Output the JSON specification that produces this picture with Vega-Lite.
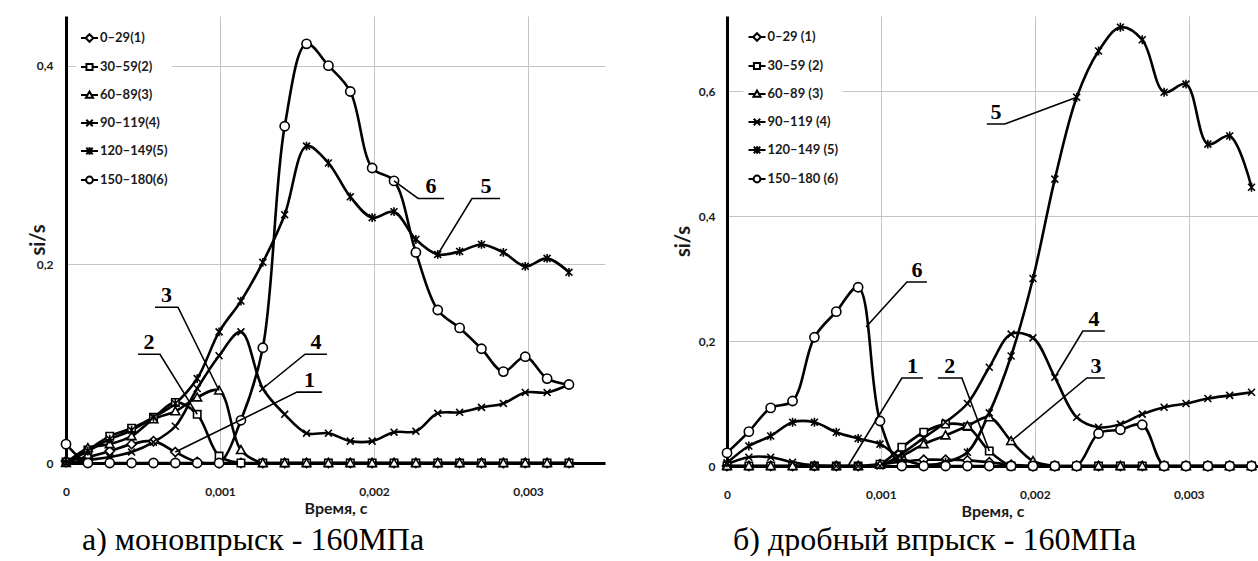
{
  "$schema": "https://vega.github.io/schema/vega-lite/v6.json",
  "background": "white",
  "autosize": {"type": "pad"},
  "padding": {"left": 28, "top": 16, "right": 0, "bottom": 0},
  "bounds": "flush",
  "spacing": 122,
  "config": {
    "view": {"stroke": null},
    "axis": {
      "labelFont": "Lato", "labelFontWeight": "bold", "labelFontSize": 12, "labelColor": "#1a1a1a",
      "titleFont": "Lato", "titleFontWeight": "bold", "titleColor": "#1a1a1a",
      "ticks": false, "grid": true, "gridColor": "#c4c4c4", "gridWidth": 1,
      "domainColor": "black", "domainWidth": 3, "labelFlush": false
    },
    "legend": {
      "labelFont": "Lato", "labelFontWeight": "bold", "labelFontSize": 13, "labelColor": "#1a1a1a",
      "symbolSize": 289, "symbolStrokeWidth": 2,
      "rowPadding": 11, "labelOffset": 1, "padding": 4, "fillColor": "white", "strokeColor": null
    },
    "title": {"font": "Liberation Serif", "fontSize": 32, "fontWeight": "normal", "color": "black", "frame": "group"}
  },
  "resolve": {"scale": {"shape": "independent"}, "legend": {"shape": "independent"}},
  "datasets": {
    "mono": [
      {"t": 0, "s1": 0.002, "s2": 0.001, "s3": 0, "s4": 0, "s5": 0, "s6": 0.019},
      {"t": 0.000142, "s1": 0.006, "s2": 0.013, "s3": 0.015, "s4": 0.003, "s5": 0.012, "s6": 0},
      {"t": 0.000284, "s1": 0.012, "s2": 0.027, "s3": 0.019, "s4": 0.006, "s5": 0.024, "s6": 0},
      {"t": 0.000426, "s1": 0.019, "s2": 0.035, "s3": 0.027, "s4": 0.011, "s5": 0.033, "s6": 0},
      {"t": 0.000568, "s1": 0.022, "s2": 0.046, "s3": 0.044, "s4": 0.021, "s5": 0.046, "s6": 0},
      {"t": 0.00071, "s1": 0.011, "s2": 0.061, "s3": 0.052, "s4": 0.037, "s5": 0.06, "s6": 0},
      {"t": 0.000852, "s1": 0.001, "s2": 0.049, "s3": 0.066, "s4": 0.075, "s5": 0.085, "s6": 0},
      {"t": 0.000994, "s1": 0, "s2": 0.007, "s3": 0.073, "s4": 0.108, "s5": 0.132, "s6": 0},
      {"t": 0.001136, "s1": 0, "s2": 0, "s3": 0.013, "s4": 0.132, "s5": 0.163, "s6": 0.043},
      {"t": 0.001278, "s1": 0, "s2": 0, "s3": 0, "s4": 0.075, "s5": 0.202, "s6": 0.116},
      {"t": 0.00142, "s1": 0, "s2": 0, "s3": 0, "s4": 0.049, "s5": 0.25, "s6": 0.339},
      {"t": 0.001562, "s1": 0, "s2": 0, "s3": 0, "s4": 0.03, "s5": 0.319, "s6": 0.422},
      {"t": 0.001704, "s1": 0, "s2": 0, "s3": 0, "s4": 0.03, "s5": 0.302, "s6": 0.4},
      {"t": 0.001846, "s1": 0, "s2": 0, "s3": 0, "s4": 0.022, "s5": 0.268, "s6": 0.374},
      {"t": 0.001988, "s1": 0, "s2": 0, "s3": 0, "s4": 0.022, "s5": 0.247, "s6": 0.297},
      {"t": 0.00213, "s1": 0, "s2": 0, "s3": 0, "s4": 0.031, "s5": 0.253, "s6": 0.284},
      {"t": 0.002272, "s1": 0, "s2": 0, "s3": 0, "s4": 0.032, "s5": 0.225, "s6": 0.212},
      {"t": 0.002414, "s1": 0, "s2": 0, "s3": 0, "s4": 0.05, "s5": 0.21, "s6": 0.154},
      {"t": 0.002556, "s1": 0, "s2": 0, "s3": 0, "s4": 0.051, "s5": 0.213, "s6": 0.136},
      {"t": 0.002698, "s1": 0, "s2": 0, "s3": 0, "s4": 0.056, "s5": 0.22, "s6": 0.115},
      {"t": 0.00284, "s1": 0, "s2": 0, "s3": 0, "s4": 0.06, "s5": 0.212, "s6": 0.092},
      {"t": 0.002982, "s1": 0, "s2": 0, "s3": 0, "s4": 0.071, "s5": 0.198, "s6": 0.107},
      {"t": 0.003124, "s1": 0, "s2": 0, "s3": 0, "s4": 0.071, "s5": 0.206, "s6": 0.085},
      {"t": 0.003266, "s1": 0, "s2": 0, "s3": 0, "s4": 0.079, "s5": 0.192, "s6": 0.079}
    ],
    "split": [
      {"t": 0, "s1": 0, "s2": 0, "s3": 0, "s4": 0.003, "s5": 0.005, "s6": 0.021},
      {"t": 0.000142, "s1": 0, "s2": 0, "s3": 0, "s4": 0.014, "s5": 0.032, "s6": 0.055},
      {"t": 0.000284, "s1": 0, "s2": 0, "s3": 0, "s4": 0.014, "s5": 0.048, "s6": 0.093},
      {"t": 0.000426, "s1": 0, "s2": 0, "s3": 0, "s4": 0.006, "s5": 0.07, "s6": 0.104},
      {"t": 0.000568, "s1": 0, "s2": 0, "s3": 0, "s4": 0.001, "s5": 0.07, "s6": 0.206},
      {"t": 0.00071, "s1": 0, "s2": 0, "s3": 0, "s4": 0, "s5": 0.054, "s6": 0.247},
      {"t": 0.000852, "s1": 0, "s2": 0, "s3": 0, "s4": 0, "s5": 0.044, "s6": 0.286},
      {"t": 0.000994, "s1": 0.003, "s2": 0.003, "s3": 0.002, "s4": 0, "s5": 0.035, "s6": 0.072},
      {"t": 0.001136, "s1": 0.007, "s2": 0.03, "s3": 0.016, "s4": 0.02, "s5": 0.012, "s6": 0},
      {"t": 0.001278, "s1": 0.01, "s2": 0.054, "s3": 0.035, "s4": 0.045, "s5": 0.002, "s6": 0},
      {"t": 0.00142, "s1": 0.01, "s2": 0.067, "s3": 0.049, "s4": 0.07, "s5": 0.006, "s6": 0},
      {"t": 0.001562, "s1": 0.009, "s2": 0.063, "s3": 0.064, "s4": 0.1, "s5": 0.022, "s6": 0},
      {"t": 0.001704, "s1": 0.006, "s2": 0.024, "s3": 0.078, "s4": 0.158, "s5": 0.085, "s6": 0},
      {"t": 0.001846, "s1": 0.002, "s2": 0, "s3": 0.04, "s4": 0.211, "s5": 0.176, "s6": 0},
      {"t": 0.001988, "s1": 0, "s2": 0, "s3": 0.008, "s4": 0.205, "s5": 0.3, "s6": 0},
      {"t": 0.00213, "s1": 0, "s2": 0, "s3": 0, "s4": 0.142, "s5": 0.459, "s6": 0},
      {"t": 0.002272, "s1": 0, "s2": 0, "s3": 0, "s4": 0.078, "s5": 0.59, "s6": 0},
      {"t": 0.002414, "s1": 0, "s2": 0, "s3": 0, "s4": 0.062, "s5": 0.664, "s6": 0.052},
      {"t": 0.002556, "s1": 0, "s2": 0, "s3": 0, "s4": 0.067, "s5": 0.702, "s6": 0.058},
      {"t": 0.002698, "s1": 0, "s2": 0, "s3": 0, "s4": 0.083, "s5": 0.682, "s6": 0.066},
      {"t": 0.00284, "s1": 0, "s2": 0, "s3": 0, "s4": 0.094, "s5": 0.598, "s6": 0},
      {"t": 0.002982, "s1": 0, "s2": 0, "s3": 0, "s4": 0.1, "s5": 0.611, "s6": 0},
      {"t": 0.003124, "s1": 0, "s2": 0, "s3": 0, "s4": 0.108, "s5": 0.515, "s6": 0},
      {"t": 0.003266, "s1": 0, "s2": 0, "s3": 0, "s4": 0.113, "s5": 0.528, "s6": 0},
      {"t": 0.003408, "s1": 0, "s2": 0, "s3": 0, "s4": 0.118, "s5": 0.446, "s6": 0}
    ],
    "annAlines": [
      {"k": "6", "o": 0, "t": 0.00213, "v": 0.284}, {"k": "6", "o": 1, "t": 0.002286, "v": 0.2663}, {"k": "6", "o": 2, "t": 0.002455, "v": 0.2663},
      {"k": "5", "o": 0, "t": 0.002414, "v": 0.21}, {"k": "5", "o": 1, "t": 0.002636, "v": 0.2663}, {"k": "5", "o": 2, "t": 0.002818, "v": 0.2663},
      {"k": "3", "o": 0, "t": 0.000994, "v": 0.073}, {"k": "3", "o": 1, "t": 0.000727, "v": 0.1568}, {"k": "3", "o": 2, "t": 0.000578, "v": 0.1568},
      {"k": "2", "o": 0, "t": 0.000852, "v": 0.049}, {"k": "2", "o": 1, "t": 0.00061, "v": 0.1095}, {"k": "2", "o": 2, "t": 0.000468, "v": 0.1095},
      {"k": "4", "o": 0, "t": 0.001278, "v": 0.075}, {"k": "4", "o": 1, "t": 0.001552, "v": 0.1095}, {"k": "4", "o": 2, "t": 0.001695, "v": 0.1095},
      {"k": "1", "o": 0, "t": 0.00071, "v": 0.011}, {"k": "1", "o": 1, "t": 0.0015, "v": 0.0714}, {"k": "1", "o": 2, "t": 0.001662, "v": 0.0714}
    ],
    "annAtext": [
      {"k": "6", "t": 0.00237, "v": 0.2663}, {"k": "5", "t": 0.002727, "v": 0.2663},
      {"k": "3", "t": 0.000652, "v": 0.1568}, {"k": "2", "t": 0.000539, "v": 0.1095},
      {"k": "4", "t": 0.001623, "v": 0.1095}, {"k": "1", "t": 0.001581, "v": 0.0714}
    ],
    "annBlines": [
      {"k": "6", "o": 0, "t": 0.000903, "v": 0.2224}, {"k": "6", "o": 1, "t": 0.001169, "v": 0.2944}, {"k": "6", "o": 2, "t": 0.001299, "v": 0.2944},
      {"k": "5", "o": 0, "t": 0.002272, "v": 0.59}, {"k": "5", "o": 1, "t": 0.001805, "v": 0.5472}, {"k": "5", "o": 2, "t": 0.001688, "v": 0.5472},
      {"k": "1", "o": 0, "t": 0.000786, "v": 0}, {"k": "1", "o": 1, "t": 0.001136, "v": 0.1408}, {"k": "1", "o": 2, "t": 0.001273, "v": 0.1408},
      {"k": "2", "o": 0, "t": 0.001704, "v": 0.024}, {"k": "2", "o": 1, "t": 0.001526, "v": 0.1408}, {"k": "2", "o": 2, "t": 0.00137, "v": 0.1408},
      {"k": "4", "o": 0, "t": 0.00213, "v": 0.142}, {"k": "4", "o": 1, "t": 0.002312, "v": 0.216}, {"k": "4", "o": 2, "t": 0.002455, "v": 0.216},
      {"k": "3", "o": 0, "t": 0.001846, "v": 0.04}, {"k": "3", "o": 1, "t": 0.002338, "v": 0.1408}, {"k": "3", "o": 2, "t": 0.002455, "v": 0.1408}
    ],
    "annBtext": [
      {"k": "6", "t": 0.001234, "v": 0.2944}, {"k": "5", "t": 0.001747, "v": 0.5472},
      {"k": "1", "t": 0.001205, "v": 0.1408}, {"k": "2", "t": 0.001448, "v": 0.1408},
      {"k": "4", "t": 0.002384, "v": 0.216}, {"k": "3", "t": 0.002397, "v": 0.1408}
    ]
  },
  "hconcat": [
    {
      "width": 539,
      "height": 447,
      "title": {"text": "а) моновпрыск - 160МПа", "orient": "bottom", "anchor": "start", "dx": 16, "offset": 34, "baseline": "alphabetic"},
      "encoding": {
        "x": {"field": "t", "type": "quantitative", "scale": {"domain": [0, 0.0035], "nice": false, "zero": false},
              "axis": {"values": [0, 0.001, 0.002, 0.003], "labelExpr": "replace(format(datum.value, ''), '.', ',')", "labelPadding": 23, "title": "Время, с", "titleFontSize": 16, "titlePadding": 3}},
        "y": {"field": "v", "type": "quantitative", "scale": {"domain": [0, 0.45], "nice": false, "zero": false},
              "axis": {"values": [0, 0.2, 0.4], "labelExpr": "replace(format(datum.value, ''), '.', ',')", "labelPadding": 13, "title": "si/s", "titleFontSize": 20, "titleX": -28, "titleBaseline": "middle"}}
      },
      "layer": [
        {
          "data": {"name": "mono"},
          "transform": [{"fold": ["s1", "s2", "s3", "s4", "s5", "s6"], "as": ["series", "v"]}],
          "mark": {"type": "line", "interpolate": "catmull-rom", "color": "black", "strokeWidth": 2.6, "clip": true},
          "encoding": {"detail": {"field": "series"}}
        },
        {
          "data": {"name": "mono"},
          "transform": [{"fold": ["s1", "s2", "s3", "s4", "s5", "s6"], "as": ["series", "v"]}],
          "mark": {"type": "point", "filled": true, "fill": "white", "stroke": "black", "strokeWidth": 1.6, "size": 85, "opacity": 1},
          "encoding": {
            "shape": {"field": "series", "type": "nominal", "legend": null,
              "scale": {"domain": ["s1", "s2", "s3", "s4", "s5", "s6"],
                        "range": ["M0,-1L1,0L0,1L-1,0Z", "M-0.8,-0.8L0.8,-0.8L0.8,0.8L-0.8,0.8Z", "M0,-0.95L0.95,0.75L-0.95,0.75Z", "M-0.75,-0.75L0.75,0.75M-0.75,0.75L0.75,-0.75", "M-0.75,-0.75L0.75,0.75M-0.75,0.75L0.75,-0.75M0,-0.95L0,0.95", "circle"]}}
          }
        },
        {
          "data": {"name": "mono"},
          "transform": [{"fold": ["s1", "s2", "s3", "s4", "s5", "s6"], "as": ["series", "v"]}, {"filter": "datum.t < 0"}],
          "mark": {"type": "point", "filled": false, "color": "black", "strokeWidth": 2, "opacity": 1},
          "encoding": {
            "shape": {"field": "series", "type": "nominal",
              "scale": {"domain": ["s1", "s2", "s3", "s4", "s5", "s6"],
                        "range": ["M-1,0L-0.45,0M0.45,0L1,0M0,-0.45L0.45,0L0,0.45L-0.45,0Z", "M-1,0L-0.36,0M0.36,0L1,0M-0.36,-0.36L0.36,-0.36L0.36,0.36L-0.36,0.36Z", "M-1,0L-0.3,0M0.3,0L1,0M0,-0.42L0.42,0.32L-0.42,0.32Z", "M-1,0L1,0M-0.38,-0.38L0.38,0.38M-0.38,0.38L0.38,-0.38", "M-1,0L1,0M-0.38,-0.38L0.38,0.38M-0.38,0.38L0.38,-0.38M0,-0.45L0,0.45", "M-1,0L-0.4,0M0.4,0L1,0M0.4,0A0.4,0.4,0,1,1,-0.4,0A0.4,0.4,0,1,1,0.4,0Z"]},
              "legend": {"title": null, "orient": "none", "legendX": 10, "legendY": 8.5, "symbolOpacity": 1, "symbolStrokeColor": "black", "symbolStrokeWidth": 2,
                         "labelExpr": "['0–29(1)','30–59(2)','60–89(3)','90–119(4)','120–149(5)','150–180(6)'][indexof(['s1','s2','s3','s4','s5','s6'], datum.label)]"}}
          }
        },
        {
          "data": {"name": "annAlines"},
          "mark": {"type": "line", "color": "black", "strokeWidth": 1.6},
          "encoding": {"detail": {"field": "k"}, "order": {"field": "o", "type": "quantitative"}}
        },
        {
          "data": {"name": "annAtext"},
          "mark": {"type": "text", "font": "Liberation Serif", "fontWeight": "bold", "fontSize": 22, "baseline": "alphabetic", "align": "center", "dy": -5, "color": "black"},
          "encoding": {"text": {"field": "k"}}
        }
      ],
      "resolve": {"scale": {"shape": "independent"}, "legend": {"shape": "independent"}}
    },
    {
      "width": 531,
      "height": 450,
      "title": {"text": "б) дробный впрыск - 160МПа", "orient": "bottom", "anchor": "start", "dx": 6, "offset": 31, "baseline": "alphabetic"},
      "encoding": {
        "x": {"field": "t", "type": "quantitative", "scale": {"domain": [0, 0.00345], "nice": false, "zero": false},
              "axis": {"values": [0, 0.001, 0.002, 0.003], "labelExpr": "replace(format(datum.value, ''), '.', ',')", "labelPadding": 23, "title": "Время, с", "titleFontSize": 16, "titlePadding": 3}},
        "y": {"field": "v", "type": "quantitative", "scale": {"domain": [0, 0.72], "nice": false, "zero": false},
              "axis": {"values": [0, 0.2, 0.4, 0.6], "labelExpr": "replace(format(datum.value, ''), '.', ',')", "labelPadding": 12, "title": "si/s", "titleFontSize": 20, "titleX": -44, "titleBaseline": "middle"}}
      },
      "layer": [
        {
          "data": {"name": "split"},
          "transform": [{"fold": ["s1", "s2", "s3", "s4", "s5", "s6"], "as": ["series", "v"]}],
          "mark": {"type": "line", "interpolate": "catmull-rom", "color": "black", "strokeWidth": 2.6, "clip": true},
          "encoding": {"detail": {"field": "series"}}
        },
        {
          "data": {"name": "split"},
          "transform": [{"fold": ["s1", "s2", "s3", "s4", "s5", "s6"], "as": ["series", "v"]}],
          "mark": {"type": "point", "filled": true, "fill": "white", "stroke": "black", "strokeWidth": 1.6, "size": 85, "opacity": 1},
          "encoding": {
            "shape": {"field": "series", "type": "nominal", "legend": null,
              "scale": {"domain": ["s1", "s2", "s3", "s4", "s5", "s6"],
                        "range": ["M0,-1L1,0L0,1L-1,0Z", "M-0.8,-0.8L0.8,-0.8L0.8,0.8L-0.8,0.8Z", "M0,-0.95L0.95,0.75L-0.95,0.75Z", "M-0.75,-0.75L0.75,0.75M-0.75,0.75L0.75,-0.75", "M-0.75,-0.75L0.75,0.75M-0.75,0.75L0.75,-0.75M0,-0.95L0,0.95", "circle"]}}
          }
        },
        {
          "data": {"name": "split"},
          "transform": [{"fold": ["s1", "s2", "s3", "s4", "s5", "s6"], "as": ["series", "v"]}, {"filter": "datum.t < 0"}],
          "mark": {"type": "point", "filled": false, "color": "black", "strokeWidth": 2, "opacity": 1},
          "encoding": {
            "shape": {"field": "series", "type": "nominal",
              "scale": {"domain": ["s1", "s2", "s3", "s4", "s5", "s6"],
                        "range": ["M-1,0L-0.45,0M0.45,0L1,0M0,-0.45L0.45,0L0,0.45L-0.45,0Z", "M-1,0L-0.36,0M0.36,0L1,0M-0.36,-0.36L0.36,-0.36L0.36,0.36L-0.36,0.36Z", "M-1,0L-0.3,0M0.3,0L1,0M0,-0.42L0.42,0.32L-0.42,0.32Z", "M-1,0L1,0M-0.38,-0.38L0.38,0.38M-0.38,0.38L0.38,-0.38", "M-1,0L1,0M-0.38,-0.38L0.38,0.38M-0.38,0.38L0.38,-0.38M0,-0.45L0,0.45", "M-1,0L-0.4,0M0.4,0L1,0M0.4,0A0.4,0.4,0,1,1,-0.4,0A0.4,0.4,0,1,1,0.4,0Z"]},
              "legend": {"title": null, "orient": "none", "legendX": 16.5, "legendY": 7.5, "symbolOpacity": 1, "symbolStrokeColor": "black", "symbolStrokeWidth": 2,
                         "labelExpr": "['0–29 (1)','30–59 (2)','60–89 (3)','90–119 (4)','120–149 (5)','150–180 (6)'][indexof(['s1','s2','s3','s4','s5','s6'], datum.label)]"}}
          }
        },
        {
          "data": {"name": "annBlines"},
          "mark": {"type": "line", "color": "black", "strokeWidth": 1.6},
          "encoding": {"detail": {"field": "k"}, "order": {"field": "o", "type": "quantitative"}}
        },
        {
          "data": {"name": "annBtext"},
          "mark": {"type": "text", "font": "Liberation Serif", "fontWeight": "bold", "fontSize": 22, "baseline": "alphabetic", "align": "center", "dy": -5, "color": "black"},
          "encoding": {"text": {"field": "k"}}
        }
      ],
      "resolve": {"scale": {"shape": "independent"}, "legend": {"shape": "independent"}}
    }
  ]
}
